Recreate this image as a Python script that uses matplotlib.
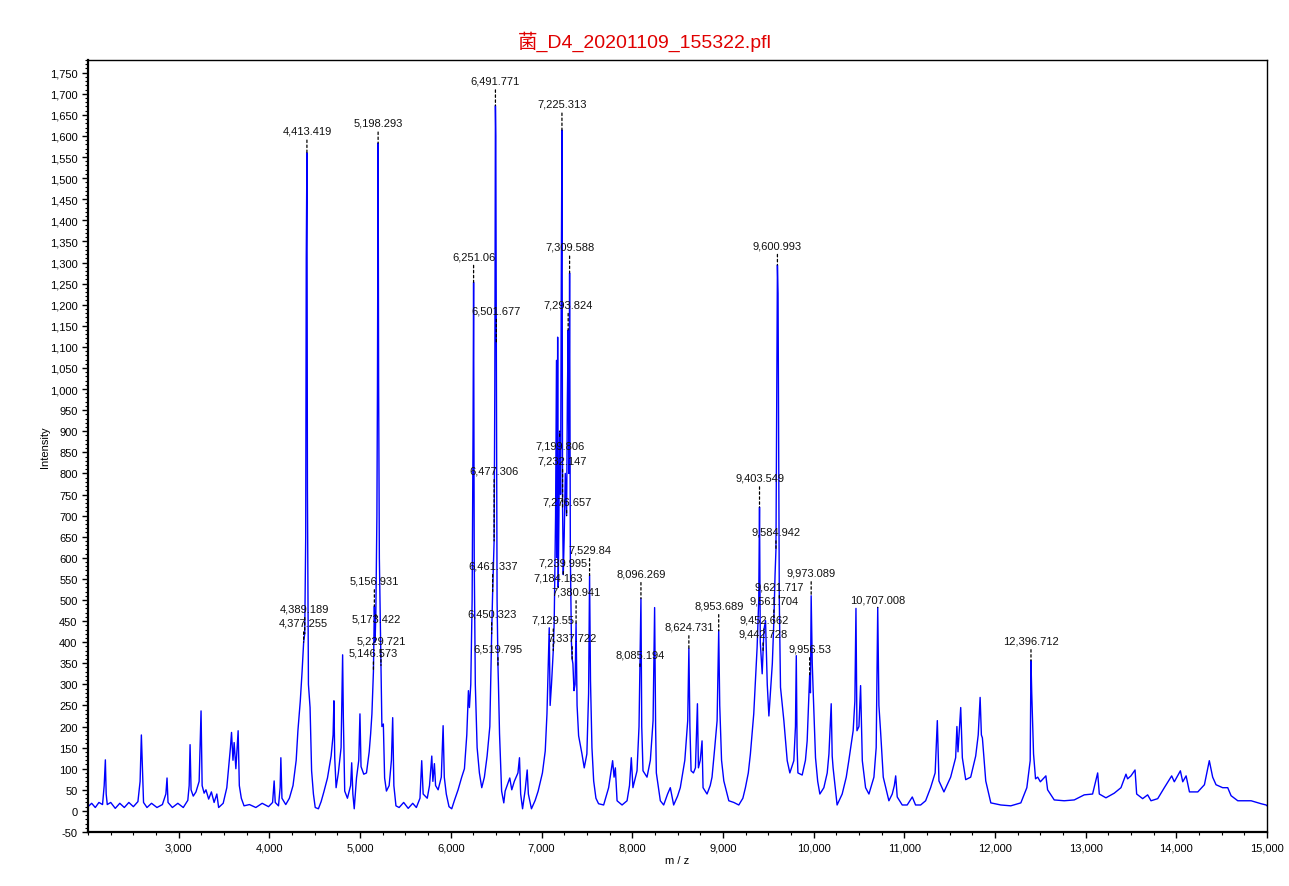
import matplotlib
matplotlib.use('Agg')
import matplotlib.pyplot as plt
import numpy as np
from matplotlib.ticker import FixedLocator, MultipleLocator, FuncFormatter

# 字体：拉丁字母用 Liberation Sans，中文回退到 Noto Sans CJK SC
plt.rcParams['font.family'] = ['Liberation Sans', 'Noto Sans CJK SC']
plt.rcParams['axes.unicode_minus'] = False

title = "菌_D4_20201109_155322.pfl"

# 谱图轨迹 (m/z, 强度)
trace_mz = [
    2000, 2040, 2080, 2120, 2160, 2178, 2191, 2200, 2212, 2250, 2300, 2350, 2400, 2450, 2500,
    2550, 2574, 2588, 2598, 2612, 2650, 2700, 2760, 2820, 2858, 2871, 2882, 2930, 2990, 3050,
    3100, 3115, 3125, 3136, 3160, 3190, 3225, 3246, 3258, 3280, 3300, 3330, 3360, 3390, 3420,
    3440, 3490, 3530, 3570, 3582, 3598, 3611, 3630, 3655, 3668, 3690, 3720, 3780, 3850, 3920,
    3990, 4035, 4052, 4064, 4100, 4118, 4126, 4138, 4180, 4220, 4260, 4295, 4314, 4340, 4360,
    4377.255, 4389.189, 4400, 4406, 4413.419, 4419, 4430, 4448, 4465, 4485, 4505, 4540, 4570,
    4600, 4640, 4680, 4702, 4711, 4720, 4735, 4760, 4790, 4807, 4815, 4830, 4860, 4895, 4907,
    4920, 4935, 4960, 4985, 4998, 5010, 5040, 5070, 5100, 5116, 5130, 5146.573, 5156.931, 5165,
    5173.422, 5185, 5191, 5198.293, 5204, 5212, 5229.721, 5240, 5256, 5270, 5290, 5320, 5345,
    5359, 5372, 5395, 5430, 5480, 5530, 5580, 5620, 5660, 5679, 5695, 5740, 5765, 5790, 5802,
    5819, 5832, 5860, 5895, 5915, 5928, 5950, 5980, 6010, 6040, 6080, 6120, 6150, 6176, 6194,
    6205, 6220, 6235, 6245, 6251.06, 6258, 6270, 6290, 6315, 6341, 6370, 6400, 6430, 6450.323,
    6461.337, 6477.306, 6485, 6491.771, 6496, 6501.677, 6510, 6519.795, 6525, 6537, 6560, 6584,
    6599, 6650, 6672, 6700, 6740, 6757, 6770, 6791, 6820, 6842, 6855, 6889, 6930, 6963, 7010,
    7041, 7060, 7085, 7095, 7110, 7129.55, 7140, 7155, 7165, 7172, 7178, 7184.163, 7192,
    7199.806, 7210, 7218, 7225.313, 7232.147, 7239.995, 7250, 7262, 7276.657, 7285, 7293.824,
    7302, 7309.588, 7318, 7330, 7337.722, 7346, 7358, 7370, 7380.941, 7392, 7409, 7446, 7471,
    7500, 7519, 7529.84, 7540, 7556, 7575, 7600, 7629, 7685, 7740, 7784, 7800, 7814, 7833,
    7888, 7943, 7970, 7990, 8008, 8053, 8075, 8085.194, 8096.269, 8105, 8119, 8163, 8200, 8230,
    8247, 8258, 8266, 8310, 8347, 8390, 8420, 8457, 8500, 8530, 8580, 8598, 8612, 8624.731,
    8636, 8649, 8675, 8697, 8719, 8730, 8750, 8770, 8781, 8825, 8860, 8880, 8910, 8936,
    8953.689, 8965, 8985, 9010, 9065, 9120, 9175, 9220, 9248, 9280, 9303, 9340, 9377, 9395,
    9403.549, 9412, 9433, 9442.728, 9452.662, 9470, 9489, 9507, 9525, 9545, 9561.704, 9575,
    9584.942, 9594, 9600.993, 9608, 9621.717, 9635, 9672, 9709, 9738, 9782, 9800, 9809, 9818,
    9827, 9874, 9910, 9929, 9956.53, 9965, 9973.089, 9985, 9995, 10021, 10045, 10069, 10113,
    10150, 10169, 10194, 10205, 10215, 10259, 10315, 10360, 10388, 10436, 10455, 10467, 10478,
    10500, 10518, 10528, 10537, 10573, 10610, 10665, 10690, 10707.008, 10720, 10738, 10768,
    10830, 10867, 10890, 10905, 10922, 10977, 11032, 11088, 11124, 11180, 11235, 11290, 11340,
    11364, 11382, 11437, 11511, 11566, 11580, 11592, 11622, 11640, 11677, 11732, 11787, 11815,
    11836, 11850, 11861, 11898, 11954, 12064, 12174, 12285, 12351, 12388, 12396.712, 12405,
    12425, 12447, 12471, 12500, 12561, 12580, 12653, 12763, 12874, 12984, 13076, 13110, 13132,
    13150, 13223, 13315, 13389, 13444, 13462, 13499, 13544, 13562, 13628, 13683, 13720, 13794,
    13867, 13948, 13977, 14044, 14070, 14107, 14144, 14236, 14309, 14363, 14400, 14437, 14510,
    14566, 14603, 14677, 14824, 14934, 14989, 15000,
]
trace_int = [
    10, 18, 8, 20, 15, 60, 121, 40, 15, 20, 6, 18, 8, 20, 10,
    22, 70, 180, 110, 20, 8, 18, 8, 15, 40, 78, 20, 8, 18, 8,
    25, 60, 157, 50, 35, 45, 70, 237, 60, 42, 50, 28, 45, 20, 40,
    8, 18, 55, 150, 186, 120, 162, 100, 190, 60, 30, 12, 15, 8, 18,
    10, 20, 71, 20, 12, 55, 126, 30, 15, 30, 60, 120, 190, 260, 330,
    400, 420, 650, 1310, 1560, 760, 300, 245, 95, 40, 8, 5, 22,
    45, 78, 130, 180, 261, 126, 55, 90, 150, 370, 220, 47, 30, 60, 114,
    40, 5, 78, 120, 230, 105, 87, 90, 140, 183, 230, 330, 485, 400,
    470, 700, 1000, 1583, 1010, 600, 345, 200, 206, 78, 47, 60, 120,
    221, 60, 12, 8, 20, 6, 18, 8, 30, 119, 40, 30, 60, 130, 70,
    112, 60, 50, 80, 202, 80, 40, 10, 5, 25, 50, 80, 100, 180, 285,
    245, 300, 500, 900, 1253, 600, 300, 150, 90, 55, 80, 130, 200, 420,
    520, 640, 1000, 1672, 1600, 1108, 500, 345, 301, 183, 47, 19,
    47, 78, 50, 70, 90, 126, 40, 5, 50, 97, 40, 5, 25, 47, 90,
    142, 230, 434, 250, 300, 380, 450, 700, 1068, 600, 1123, 530, 700,
    900, 750, 1265, 1614, 720, 560, 650, 800, 700, 973, 1140,
    800, 1275, 600, 400, 360, 349, 285, 300, 445, 250, 178, 135, 102,
    135, 278, 558, 309, 150, 71, 30, 17, 14, 55, 119, 80, 102, 24,
    14, 24, 60, 126, 55, 95, 200, 340, 503, 200, 95, 80, 120, 214,
    482, 200, 90, 24, 14, 40, 55, 14, 35, 55, 120, 173, 214, 385,
    200, 95, 90, 102, 254, 102, 120, 166, 55, 40, 60, 80, 150, 214,
    427, 250, 120, 71, 24, 20, 14, 30, 55, 90, 135, 230, 387, 500,
    720, 400, 325, 380, 430, 451, 300, 225, 285, 350, 450, 560,
    620, 1000, 1294, 1227, 500, 293, 214, 119, 90, 119, 200, 368, 150,
    90, 85, 120, 166, 323, 280, 510, 350, 285, 126, 70, 40, 55,
    90, 135, 254, 130, 102, 14, 40, 80, 119, 190, 260, 480, 190,
    200, 297, 200, 119, 55, 40, 80, 150, 482, 250, 190, 80,
    24, 40, 60, 83, 33, 14, 14, 33, 14, 14, 24, 55, 90,
    214, 71, 45, 80, 126, 200, 140, 245, 126, 74, 80, 130, 180,
    269, 180, 173, 71, 19, 14, 12, 19, 55, 119, 356, 280,
    135, 76, 80, 69, 83, 50, 26, 24, 26, 38, 40, 70, 90,
    40, 31, 42, 55, 87, 76, 83, 97, 40, 29, 38, 24, 29,
    55, 83, 69, 95, 69, 83, 45, 45, 62, 119, 80, 62, 55,
    55, 36, 24, 24, 17, 14, 12,
]

# 标注的峰 (m/z)
label_mz = [
    4413.419, 5198.293, 6491.771, 7225.313, 6251.06, 7309.588, 6501.677, 7293.824, 9600.993,
    7199.806, 7232.147, 6477.306, 7276.657, 7529.84, 6461.337, 7239.995, 7184.163, 7380.941,
    8096.269, 6450.323, 7129.55, 7337.722, 6519.795, 8085.194, 8624.731, 8953.689, 9403.549,
    9584.942, 9973.089, 9621.717, 9561.704, 9452.662, 9442.728, 9956.53, 10707.008, 12396.712,
    4389.189, 4377.255, 5156.931, 5173.422, 5229.721, 5146.573,
]
# 标签文字的高度（版面位置）
label_y = [
    1612, 1631, 1731, 1676, 1315, 1337, 1187, 1201, 1341,
    866, 831, 807, 734, 620, 582, 589, 553, 520,
    563, 468, 453, 411, 385, 370, 437, 487, 790,
    662, 565, 532, 498, 453, 420, 385, 501, 404,
    480, 446, 546, 456, 404, 375,
]

fig = plt.figure(figsize=(12.89, 8.87), dpi=100)
ax = fig.add_axes([0.0683, 0.0609, 0.9147, 0.8703])

ax.plot(trace_mz, trace_int, color='#0000ff', lw=1.0)

for mz, ly in zip(label_mz, label_y):
    apex = np.interp(mz, trace_mz, trace_int)
    ax.annotate(f"{mz:,}", xy=(mz, apex), xytext=(mz, ly),
                ha='center', va='center', fontsize=8, color='#111111',
                arrowprops=dict(arrowstyle='-', color='black', lw=0.9,
                                linestyle=(0, (2, 2)), shrinkA=1, shrinkB=0))

ax.set_xlim(2000, 15000)
ax.set_ylim(-50, 1780)

ax.xaxis.set_major_locator(FixedLocator(np.arange(3000, 15001, 1000)))
ax.xaxis.set_minor_locator(MultipleLocator(250))
ax.yaxis.set_major_locator(MultipleLocator(50))
ax.yaxis.set_minor_locator(MultipleLocator(10))
fmt = FuncFormatter(lambda v, p: f"{int(round(v)):,}")
ax.xaxis.set_major_formatter(fmt)
ax.yaxis.set_major_formatter(fmt)
ax.tick_params(axis='both', which='major', direction='out', length=4, width=1, labelsize=8)
ax.tick_params(axis='both', which='minor', direction='out', length=2, width=0.8)

for side in ['left', 'bottom']:
    ax.spines[side].set_linewidth(1.6)
for side in ['top', 'right']:
    ax.spines[side].set_linewidth(1.0)

ax.set_xlabel("m / z", fontsize=8, labelpad=2)
ax.set_ylabel("Intensity", fontsize=8, labelpad=0)

fig.suptitle(title, x=0.5, y=0.953, color='#e00000', fontsize=14, va='center')

fig.savefig("out.png", dpi=100)
